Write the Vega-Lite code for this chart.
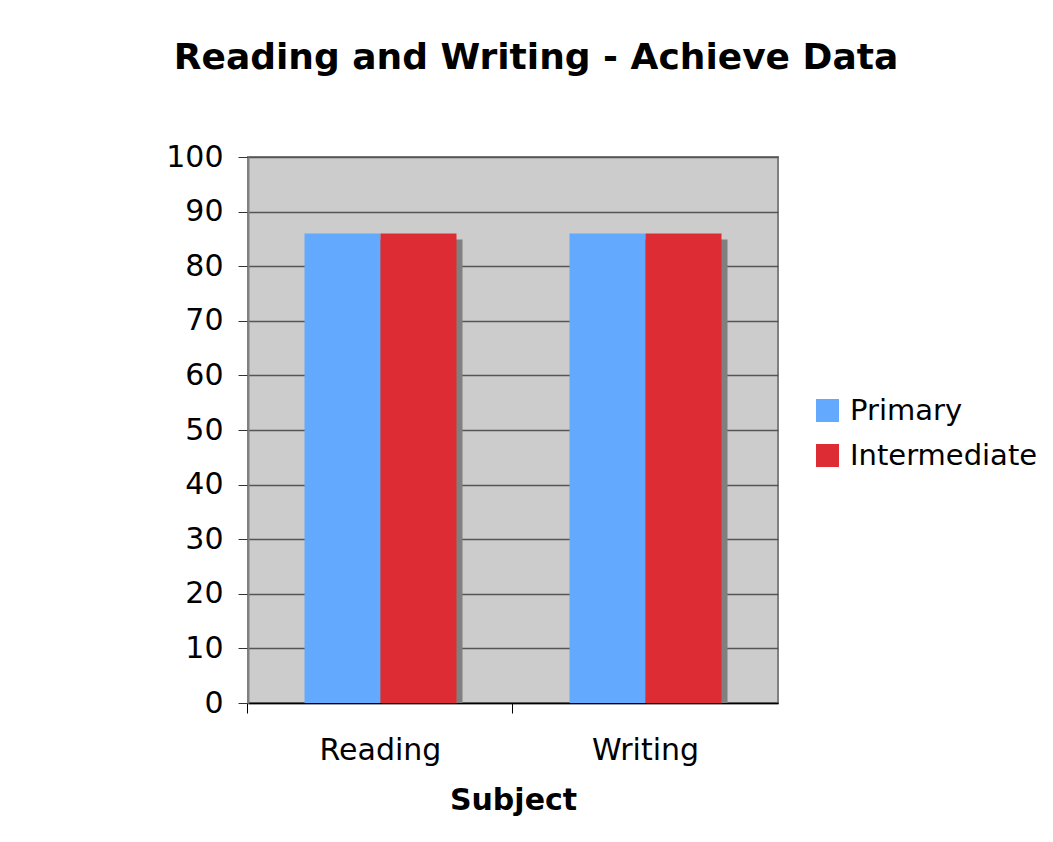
{
  "$schema": "https://vega.github.io/schema/vega-lite/v6.json",
  "width": 530,
  "height": 546,
  "autosize": "none",
  "padding": {"left": 248, "top": 157, "right": 275, "bottom": 139},
  "background": "white",
  "title": {
    "text": "Reading and Writing - Achieve Data",
    "font": "DejaVu Sans",
    "fontSize": 36,
    "fontWeight": "bold",
    "color": "black",
    "anchor": "middle",
    "dx": 23,
    "offset": 65
  },
  "data": {
    "values": [
      {"Subject": "Reading", "Level": "Primary", "Score": 86},
      {"Subject": "Reading", "Level": "Intermediate", "Score": 86},
      {"Subject": "Writing", "Level": "Primary", "Score": 86},
      {"Subject": "Writing", "Level": "Intermediate", "Score": 86}
    ]
  },
  "encoding": {
    "x": {
      "field": "Subject",
      "type": "nominal",
      "sort": ["Reading", "Writing"],
      "scale": {"paddingInner": 0.4264, "paddingOuter": 0.2132},
      "axis": {
        "title": "Subject",
        "titleFont": "DejaVu Sans",
        "titleFontSize": 30,
        "titleFontWeight": "bold",
        "titleColor": "black",
        "titlePadding": 20,
        "labelFont": "DejaVu Sans",
        "labelFontSize": 30,
        "labelColor": "black",
        "labelAngle": 0,
        "labelPadding": 22,
        "bandPosition": -0.372,
        "tickSize": 10,
        "tickColor": "black",
        "domainColor": "black",
        "domainWidth": 1.5
      }
    },
    "y": {
      "field": "Score",
      "type": "quantitative",
      "stack": null,
      "scale": {"domain": [0, 100], "nice": false},
      "axis": {
        "title": null,
        "values": [0, 10, 20, 30, 40, 50, 60, 70, 80, 90, 100],
        "labelFont": "DejaVu Sans",
        "labelFontSize": 30,
        "labelColor": "black",
        "labelPadding": 15,
        "tickSize": 10,
        "tickColor": "#333333",
        "domainColor": "#808080",
        "domainWidth": 2,
        "grid": true,
        "gridColor": "#555555",
        "gridWidth": 1.5
      }
    }
  },
  "layer": [
    {
      "data": {
        "values": [
          {"Subject": "Reading", "Score": 86},
          {"Subject": "Writing", "Score": 86}
        ]
      },
      "mark": {"type": "bar", "color": "#808080", "xOffset": 6, "yOffset": 6, "y2Offset": 0}
    },
    {
      "mark": {"type": "bar"},
      "encoding": {
        "xOffset": {
          "field": "Level",
          "type": "nominal",
          "sort": ["Primary", "Intermediate"],
          "scale": {"paddingInner": 0, "paddingOuter": 0}
        },
        "color": {
          "field": "Level",
          "type": "nominal",
          "sort": ["Primary", "Intermediate"],
          "scale": {"domain": ["Primary", "Intermediate"], "range": ["#63A9FE", "#DD2C33"]},
          "legend": {
            "title": null,
            "orient": "none",
            "legendX": 565,
            "legendY": 239,
            "symbolType": "square",
            "symbolSize": 529,
            "symbolStrokeWidth": 0,
            "symbolOpacity": 1,
            "labelFont": "DejaVu Sans",
            "labelFontSize": 29,
            "labelLimit": 0,
            "labelColor": "black",
            "labelOffset": 8,
            "rowPadding": 15
          }
        }
      }
    }
  ],
  "config": {
    "view": {"fill": "#CCCCCC", "stroke": "#808080", "strokeWidth": 2},
    "axis": {"labelFontWeight": "normal"}
  }
}
